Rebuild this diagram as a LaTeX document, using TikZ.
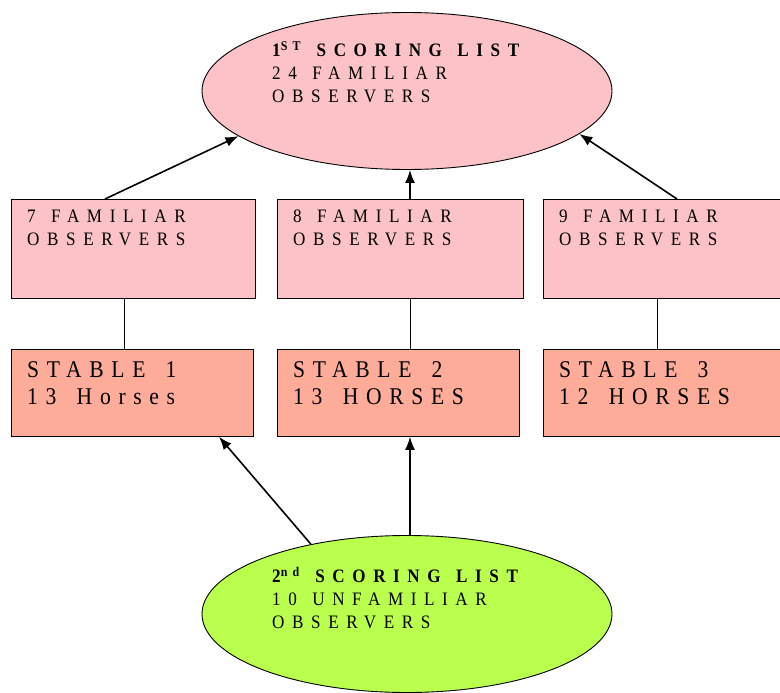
\documentclass[tikz,border=0pt]{standalone}
\usepackage{fontspec}
\setmainfont{Liberation Serif}
\newfontfamily\trackfont{Liberation Serif}[LetterSpace=40, FakeStretch=0.9, WordSpace=1.3]
\newfontfamily\bigtrackfont{Liberation Serif}[LetterSpace=32, FakeStretch=0.9, WordSpace=1.55]
\usetikzlibrary{arrows.meta,shapes.geometric}
\definecolor{obscolor}{RGB}{251,195,199}
\definecolor{stablecolor}{RGB}{252,172,153}
\definecolor{listcolor}{RGB}{186,255,77}

\begin{document}
\begin{tikzpicture}[x=1pt, y=-1pt,
    obsbox/.style={draw, line width=0.8pt, fill=obscolor, inner sep=0, anchor=north west, minimum height=99},
    stablebox/.style={draw, line width=0.8pt, fill=stablecolor, inner sep=0, anchor=north west, minimum height=87},
    listell/.style={ellipse, draw, line width=0.9pt, inner sep=0, minimum width=410, minimum height=157},
    lbl/.style={anchor=north west, inner sep=0, align=left, font=\trackfont\fontsize{19}{23}\selectfont},
    biglbl/.style={lbl, font=\bigtrackfont\fontsize{24}{27}\selectfont},
    link/.style={line width=0.8pt},
    up/.style={line width=1.6pt, -{Latex[length=13pt,width=10pt]}}]
    \clip (0,0) rectangle (780,693);
    % scoring lists
    \node[listell, fill=obscolor] (first) at (407,91) {};
    \node[listell, fill=listcolor] (second) at (407,614) {};
    % observer groups
    \node[obsbox, minimum width=244] (obs1) at (11,199) {};
    \node[obsbox, minimum width=246] (obs2) at (277,199) {};
    \node[obsbox, minimum width=246] (obs3) at (543,199) {};
    % stables
    \node[stablebox, minimum width=242] (st1) at (11,349) {};
    \node[stablebox, minimum width=242] (st2) at (277,349) {};
    \node[stablebox, minimum width=246] (st3) at (543,349) {};
    % texts
    \node[lbl] (firstlbl) at (272,41) {\textbf{1\textsuperscript{ST} SCORING LIST}\\24 FAMILIAR\\OBSERVERS};
    \node[lbl] (secondlbl) at (272,567) {\textbf{2\textsuperscript{nd} SCORING LIST}\\10 UNFAMILIAR\\OBSERVERS};
    \node[lbl] (obs1lbl) at (27,210) {7 FAMILIAR\\OBSERVERS};
    \node[lbl] (obs2lbl) at (293,210) {8 FAMILIAR\\OBSERVERS};
    \node[lbl] (obs3lbl) at (559,210) {9 FAMILIAR\\OBSERVERS};
    \node[biglbl] (st1lbl) at (27,361) {STABLE 1\\13 Horses};
    \node[biglbl] (st2lbl) at (293,361) {STABLE 2\\13 HORSES};
    \node[biglbl] (st3lbl) at (559,361) {STABLE 3\\12 HORSES};
    % connectors
    \coordinate (a2) at ([xshift=133]obs2.north west);
    \coordinate (b2) at ([xshift=133]st2.south west);
    \draw[link] ([xshift=113]obs1.south west) -- ([xshift=113]st1.north west);
    \draw[link] ([xshift=133]obs2.south west) -- ([xshift=133]st2.north west);
    \draw[link] ([xshift=114]obs3.south west) -- ([xshift=114]st3.north west);
    \draw[up] ([xshift=94]obs1.north west) -- (first.195.4);
    \draw[up] (a2) -- (a2 |- first.south);
    \draw[up] ([xshift=134]obs3.north west) -- (first.-14.7);
    \draw[up] (second.144) -- ([xshift=208]st1.south west);
    \draw[up] (b2 |- second.north) -- (b2);
\end{tikzpicture}
\end{document}
